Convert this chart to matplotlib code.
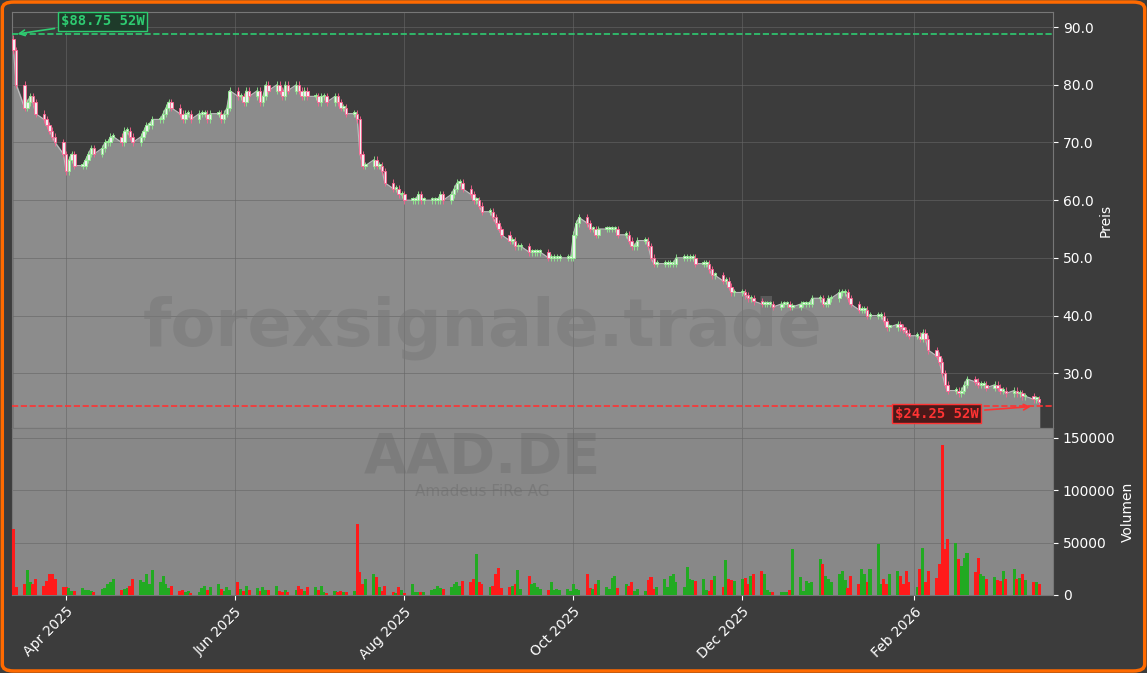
import matplotlib
matplotlib.use("Agg")
import matplotlib.pyplot as plt
import matplotlib.dates as mdates
import numpy as np
import pandas as pd
from matplotlib.patches import FancyBboxPatch

closes = [86, 80, 76,
 77, 78, 77, 75, 74, 73, 72, 71, 70, 68, 65, 67, 68, 66, 66, 67, 68, 69, 68, 69,
 70, 70, 71, 71, 70, 72, 72, 71, 70, 71, 72, 73, 73, 74, 74, 75, 76, 77, 76, 75,
 74, 75, 75, 74, 75, 75, 75, 74, 75, 75, 74, 75, 76, 79, 78, 78, 77, 79, 78, 79,
 77, 78, 80, 79, 80, 79, 78, 80, 79, 80, 79, 78, 79, 78, 78, 77, 78, 78, 77, 78,
 77, 76, 76, 75, 75, 74, 68, 66, 66, 67, 66, 66, 65, 63, 62, 62, 61, 61, 60, 60,
 60, 61, 60, 60, 60, 60, 60, 61, 60, 61, 62, 63, 63, 62, 61, 60, 60, 59, 58, 58, 57, 56,
 55, 54, 53, 53, 52, 52, 52, 51, 51, 51, 51, 51, 50, 50, 50, 50, 50, 50, 50, 54, 56, 57,
 56, 55, 55, 54, 55, 55, 55, 55, 55, 54, 54, 53, 52, 52, 53, 53, 52, 50, 49, 49,
 49, 49, 49, 49, 50, 50, 50, 50, 50, 49, 49, 49, 48, 47, 47, 46, 46, 45, 44, 44, 44,
 43.5, 43, 43, 42.5, 42, 42, 42, 42, 41.5, 42, 42, 42, 41.5, 41.5, 42, 42, 42, 42, 43, 43, 42,
 42, 43, 43, 44, 44, 44, 43, 42, 41, 41, 41, 40, 40, 40, 40, 39, 38, 38, 38.5, 38,
 37.5, 37, 36.5, 36.5, 36, 37, 36, 34, 33, 32, 30, 28, 27, 27, 26.5, 27, 28, 29, 28.5, 28,
 28, 28, 27.5, 28, 27.5, 27, 27, 26.5, 27, 26.5, 26.5, 26, 26, 25.5, 25.5, 25]

volumes = [63000, 8000, 10000,
 24000, 12000, 10000, 15000, 9000, 13000, 20000, 20000, 15000, 8000,
 8000, 7000, 4000, 4000, 7000, 5000, 5000, 4000, 3000, 6000,
 7000, 10000, 12000, 15000, 5000, 6000, 7000, 9000, 15000, 14000,
 12000, 20000, 10000, 24000, 12000, 18000, 10000, 7000, 9000, 4000,
 5000, 3000, 4000, 2000, 3000, 7000, 9000, 5000, 8000, 10000,
 6000, 4000, 8000, 5000, 12000, 6000, 4000, 9000, 5000, 7000,
 4000, 8000, 5000, 5000, 9000, 4000, 3000, 5000, 3000, 5000,
 9000, 6000, 4000, 8000, 8000, 5000, 9000, 3000, 2000, 4000,
 3000, 4000, 3000, 3000, 4000, 68000, 22000, 10000, 15000, 20000,
 17000, 8000, 4000, 9000, 3000, 2000, 8000, 5000, 2000, 10000,
 3000, 3000, 3000, 3000, 5000, 6000, 9000, 7000, 6000, 8000, 10000, 12000,
 9000, 13000, 12000, 15000, 39000, 12000, 10000, 8000, 9000, 20000,
 26000, 7000, 8000, 9000, 10000, 24000, 6000, 18000, 10000, 11000,
 8000, 6000, 5000, 12000, 5000, 6000, 5000, 6000, 4000, 10000, 6000, 5000,
 20000, 7000, 6000, 10000, 14000, 8000, 6000, 16000, 18000, 7000,
 10000, 9000, 12000, 4000, 6000, 4000, 14000, 17000, 6000, 8000,
 15000, 8000, 18000, 20000, 12000, 8000, 27000, 15000, 14000, 13000, 15000,
 5000, 4000, 14000, 18000, 8000, 33000, 15000, 14000, 13000, 15000,
 16000, 10000, 18000, 20000, 23000, 20000, 5000, 3000, 3000, 3000, 3000,
 3000, 5000, 44000, 17000, 4000, 13000, 11000, 12000, 34000, 30000,
 18000, 15000, 12000, 20000, 23000, 14000, 7000, 18000, 10000, 25000,
 20000, 12000, 25000, 49000, 10000, 15000, 10000, 20000, 23000, 18000,
 10000, 23000, 12000, 8000, 25000, 45000, 12000, 23000, 16000, 30000,
 143000, 44000, 53000, 50000, 34000, 28000, 35000, 40000, 22000, 35000,
 20000, 18000, 15000, 17000, 14000, 13000, 23000, 15000, 25000, 15000,
 16000, 20000, 14000, 12000, 12000, 10000]

n = min(len(closes), len(volumes))
closes = np.array(closes[:n], float)
volumes = np.array(volumes[:n], float)
opens = np.concatenate([[88.0], closes[:-1]])
highs = np.maximum(opens, closes) + 0.6
lows = np.minimum(opens, closes) - 0.6
dates = pd.bdate_range("2025-03-13", periods=n)
x = mdates.date2num(dates)

high52, low52 = 88.75, 24.25
BG = "#3c3c3c"
fig = plt.figure(figsize=(11.47, 6.73), dpi=100, facecolor=BG)
fig.patches.append(FancyBboxPatch((0.002, 0.003), 0.996, 0.994, boxstyle="round,pad=0,rounding_size=0.01",
                                  transform=fig.transFigure, fill=False, edgecolor="#ff6a00", linewidth=2.5))
ax = fig.add_axes([0.0105, 0.364, 0.9075, 0.618])
axv = fig.add_axes([0.0105, 0.116, 0.9075, 0.248], sharex=ax)
for a in (ax, axv):
    a.set_facecolor(BG)
    for s in a.spines.values():
        s.set_color("#777777")
    a.yaxis.tick_right(); a.yaxis.set_label_position("right")
    a.tick_params(colors="white", labelsize=10)
    a.grid(True, color="#666666", linewidth=0.6, alpha=0.7)
axv.set_facecolor("#888888")

ymin, ymax = 20.5, 92.6
ax.fill_between(x, closes, ymin, color="#8c8c8c", zorder=1)
ax.plot(x, closes, color="#bbbbbb", lw=0.8, zorder=2)
for xi, o, c, h, l in zip(x, opens, closes, highs, lows):
    col = "#90ee90" if c >= o else "#ff6090"
    ax.vlines(xi, l, h, color=col, lw=0.6, zorder=3)
    ax.bar(xi, max(abs(c - o), 0.3), bottom=min(o, c), width=0.9, facecolor="#f0f0f0",
           edgecolor=col, lw=0.6, zorder=4)
ax.axhline(high52, color="#2ecc71", ls="--", lw=1.2, zorder=5)
ax.axhline(low52, color="#ff3333", ls="--", lw=1.2, zorder=5)
ax.set_ylim(ymin, ymax)
ax.set_yticks([30, 40, 50, 60, 70, 80, 90])
ax.yaxis.set_major_formatter(matplotlib.ticker.FormatStrFormatter("%.1f"))
ax.set_ylabel("Preis", color="white")
ax.set_xlim(x[0] - 0.5, mdates.date2num(pd.Timestamp("2026-03-23")))
plt.setp(ax.get_xticklabels(), visible=False)
ax.tick_params(axis="x", length=0)

ax.annotate(f"${high52:.2f} 52W", xy=(x[0] + 0.5, high52), xytext=(x[0] + 17, 90.3),
            color="#2ecc71", fontsize=10, fontweight="bold", family="DejaVu Sans Mono",
            bbox=dict(boxstyle="square,pad=0.2", fc="#1e3b2a", ec="#2ecc71"),
            arrowprops=dict(arrowstyle="->", color="#2ecc71", lw=1.2), zorder=6)
ax.annotate(f"${low52:.2f} 52W", xy=(x[-1] - 2, low52), xytext=(x[-1] - 52, 22.3),
            color="#ff3333", fontsize=10, fontweight="bold", family="DejaVu Sans Mono",
            bbox=dict(boxstyle="square,pad=0.2", fc="#4a1a1a", ec="#ff3333"),
            arrowprops=dict(arrowstyle="->", color="#ff3333", lw=1.2), zorder=6)
ax.text(0.452, 0.24, "forexsignale.trade", transform=ax.transAxes, ha="center", va="center",
        fontsize=47, fontweight="bold", color="#777777", alpha=0.5, zorder=2)

vcols = ["#22aa22" if c >= o else "#ff1a1a" for o, c in zip(opens, closes)]
axv.bar(x, volumes, width=1.1, color=vcols, zorder=3)
axv.set_ylim(0, 159500)
axv.set_yticks([0, 50000, 100000, 150000])
axv.set_ylabel("Volumen", color="white")
axv.text(0.452, 0.82, "AAD.DE", transform=axv.transAxes, ha="center", va="center",
         fontsize=40, fontweight="bold", color="#7a7a7a", alpha=0.8, zorder=1)
axv.text(0.452, 0.62, "Amadeus FiRe AG", transform=axv.transAxes, ha="center", va="center",
         fontsize=11, color="#7a7a7a", zorder=1)
axv.xaxis.set_major_locator(mdates.MonthLocator(bymonth=[4, 6, 8, 10, 12, 2]))
axv.xaxis.set_major_formatter(mdates.DateFormatter("%b %Y"))
plt.setp(axv.get_xticklabels(), rotation=45, ha="right", rotation_mode="anchor")
fig.savefig("out.png", dpi=100, facecolor=BG)
